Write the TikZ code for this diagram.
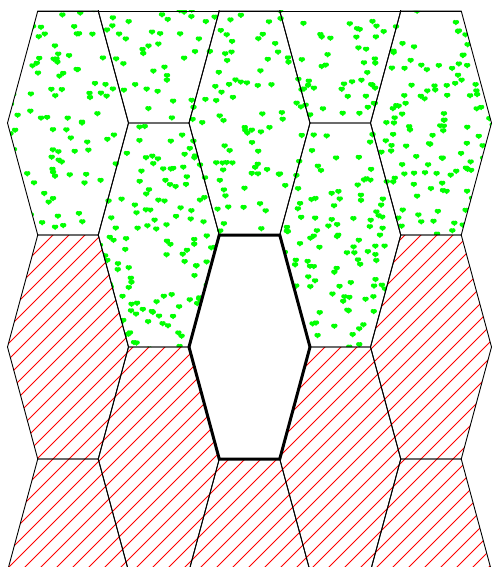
\documentclass[tikz,border=0pt]{standalone}
\usepackage{tikz}

\tikzset{
  cell/.style={draw=black,line width=0.9pt},
  holecell/.style={draw=black,line width=3pt,fill=white,line join=miter},
  hatchline/.style={draw=red,line width=1pt},
  dot/.style={fill=green}
}
% hexagon with centre (#1,#2)
\newcommand{\hexat}[2]{(#1-30.25,#2-112) -- (#1+30.25,#2-112) -- (#1+60.5,#2)
  -- (#1+30.25,#2+112) -- (#1-30.25,#2+112) -- (#1-60.5,#2) -- cycle}

\begin{document}
\begin{tikzpicture}[x=1pt,y=-1pt]
        \useasboundingbox (0,0) rectangle (493,567);
        \begin{scope}
            \clip (0,11) rectangle (493,567);
            % dotted cells
            \begin{scope}
                \clip \hexat{68}{123} \hexat{158.75}{11} \hexat{158.75}{235}
                      \hexat{249.5}{123} \hexat{340.25}{11} \hexat{340.25}{235}
                      \hexat{431}{123};
                \pgfmathsetseed{4711}
                \foreach \k in {1,...,760} {
                    \pgfmathsetmacro\dx{6+rnd*488}
                    \pgfmathsetmacro\dy{9+rnd*340}
                    \fill[dot] (\dx-1.1,\dy) circle (2.1) (\dx+1.1,\dy) circle (2.1)
                        (\dx,\dy+1.4) circle (1.9);
                }
            \end{scope}
            % hatched cells
            \begin{scope}
                \clip \hexat{68}{347} \hexat{68}{571} \hexat{158.75}{459}
                      \hexat{249.5}{571} \hexat{340.25}{459} \hexat{431}{347}
                      \hexat{431}{571};
                \foreach \c in {0,16,...,1136}
                    \draw[hatchline] (\c,0) -- (\c-620,620);
            \end{scope}
            % grid
            \foreach \cx/\cy in {68/123,68/347,68/571,158.75/11,158.75/235,158.75/459,
                249.5/123,249.5/571,340.25/11,340.25/235,340.25/459,431/123,431/347,431/571}
                \draw[cell] \hexat{\cx}{\cy};
            \draw[holecell] \hexat{249.5}{347};
        \end{scope}
        \draw[cell] (37.75,11) -- (461.25,11);
    \end{tikzpicture}
\end{document}
